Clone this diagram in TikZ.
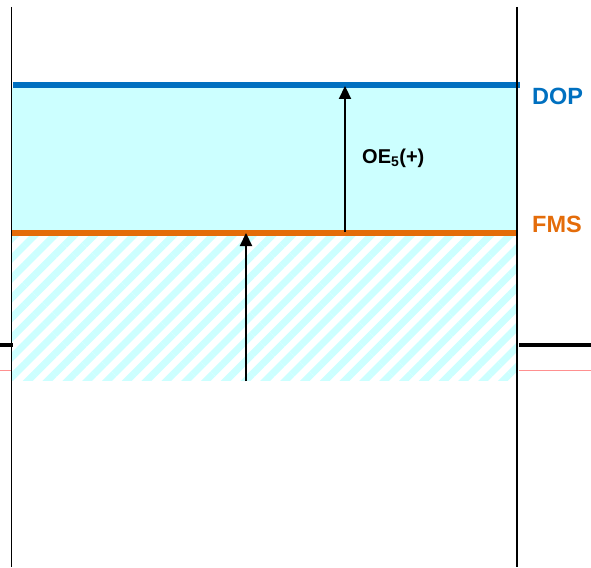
\documentclass[tikz,border=0pt]{standalone}
\usepackage{fontspec}
\setmainfont{Liberation Sans}
\usetikzlibrary{patterns.meta, arrows.meta}
\definecolor{dopblue}{HTML}{0070C0}
\definecolor{fmsorange}{HTML}{E46C0A}
\definecolor{zonecyan}{HTML}{CCFFFF}
\definecolor{datumred}{HTML}{FF9090}

\begin{document}
\begin{tikzpicture}[x=1pt, y=-1pt,
    wall/.style={black, line width=1.8pt},
    level/.style={line width=6pt},
    ground/.style={black, line width=4pt},
    datum/.style={datumred, line width=0.9pt},
    rise/.style={black, line width=2.2pt, -{Triangle[length=13pt, width=12pt]}},
    tag/.style={anchor=west, inner sep=0pt, font=\bfseries\fontsize{23.5}{24}\selectfont},
    note/.style={anchor=west, inner sep=0pt, font=\bfseries\fontsize{20}{20}\selectfont}]
  \useasboundingbox (0,0) rectangle (591,567);
  %% *** Zones ***
  \fill[zonecyan] (12,88) rectangle (518,230);
  \pattern[pattern={Lines[angle=45, distance=14pt, line width=7pt]}, pattern color=zonecyan]
    (12,235) rectangle (518,380);
  %% *** Levels ***
  \draw[level, dopblue] (13,85.5) -- (520,85.5);
  \draw[level, fmsorange] (12,232.5) -- (516,232.5);
  %% *** Walls ***
  \draw[wall] (11.5,7) -- (11.5,567);
  \draw[wall] (517,7) -- (517,567);
  \draw[ground] (0,345) -- (13,345);
  \draw[ground] (519,345) -- (591,345);
  \draw[datum] (0,370.5) -- (11,370.5);
  \draw[datum] (519,370.5) -- (591,370.5);
  %% *** Rises ***
  \coordinate (basefoot) at (246,381);
  \coordinate (basetop) at (246,233);
  \coordinate (oefoot) at (345,232);
  \coordinate (oetop) at (345,86);
  \draw[rise] (basefoot) -- (basetop);
  \draw[rise] (oefoot) -- (oetop);
  %% *** Labels ***
  \node[tag, text=dopblue] (dop) at (532,96) {DOP};
  \node[tag, text=fmsorange] (fms) at (532,224.5) {FMS};
  \node[note] (oe) at (362,158) {OE\textsubscript{5}(+)};
\end{tikzpicture}
\end{document}
